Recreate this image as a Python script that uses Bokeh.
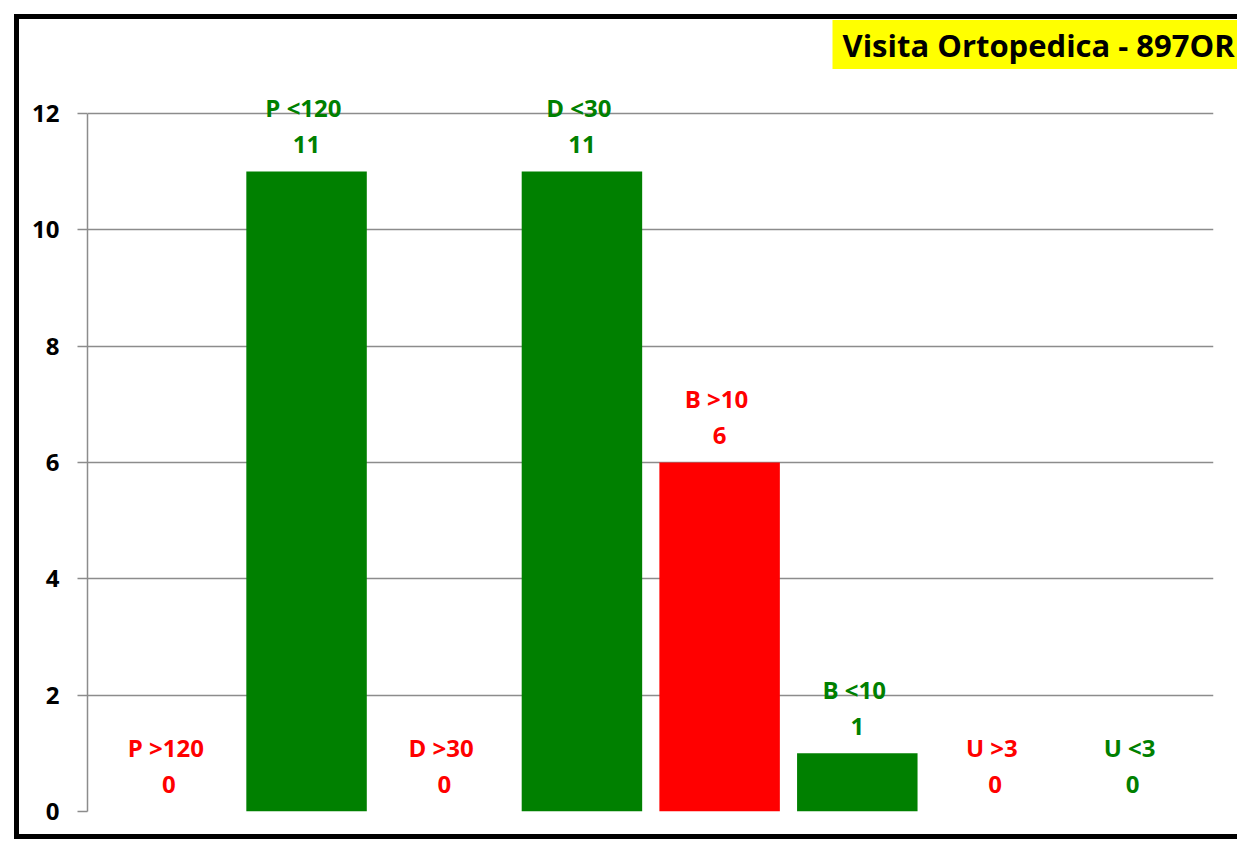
from bokeh.plotting import figure
from bokeh.models import ColumnDataSource, FixedTicker, Range1d, Title
from bokeh.core.properties import value
from bokeh.embed import file_html
from bokeh.resources import INLINE

# ---- data ----
categories = ["P  >120", "P  <120", "D  >30", "D  <30", "B  >10", "B  <10", "U  >3", "U  <3"]
values = [0, 11, 0, 11, 6, 1, 0, 0]
colors = ["#FF0000", "#008000", "#FF0000", "#008000", "#FF0000", "#008000", "#FF0000", "#008000"]
y_ticks = [0, 2, 4, 6, 8, 10, 12]
title_text = "Visita Ortopedica - 897OR"

xpos = list(range(len(categories)))
src = ColumnDataSource(dict(
    x=xpos, top=values, cat=categories, val=[str(v) for v in values], color=colors,
))

FONT = "Open Sans"

p = figure(
    width=1237, height=842,
    x_range=Range1d(-0.591, 7.587), y_range=Range1d(0, 12.635),
    output_backend="svg", toolbar_location=None, x_axis_location=None,
    min_border_left=87, min_border_right=24, min_border_top=76, min_border_bottom=31,
)
# chart border (left, top, bottom) drawn with CSS inset shadows behind the transparent canvas
p.styles = {
    "box-shadow": ("inset 14px 0 0 0 white, inset 0 14px 0 0 white, inset 0 -3px 0 0 white, "
                   "inset 19px 0 0 0 black, inset 0 19px 0 0 black, inset 0 -8px 0 0 black"),
}
p.outline_line_color = None
p.background_fill_color = "white"
p.border_fill_alpha = 0

p.vbar(x="x", top="top", bottom=0, width=0.875, fill_color="color", line_color=None, source=src)

p.text(x="x", y="top", text="cat", source=src, y_offset=-64, text_color="color",
       text_align="center", text_baseline="middle", text_font=value(FONT),
       text_font_style="bold", text_font_size="24px")
p.text(x="x", y="top", text="val", source=src, y_offset=-27, text_color="color",
       text_align="center", text_baseline="middle", text_font=value(FONT),
       text_font_style="bold", text_font_size="24px")

p.xgrid.visible = False
p.yaxis.ticker = FixedTicker(ticks=y_ticks)
p.ygrid.grid_line_color = "#8c8c8c"
p.ygrid.grid_line_width = 1.5
ax = p.yaxis[0]
ax.bounds = (0, 12)
ax.axis_line_color = "#8c8c8c"
ax.axis_line_width = 1.5
ax.major_tick_line_color = "#8c8c8c"
ax.major_tick_line_width = 1.5
ax.major_tick_out = 10
ax.major_tick_in = 0
ax.minor_tick_line_color = None
ax.major_label_standoff = 18
ax.major_label_text_font = FONT
ax.major_label_text_font_style = "bold"
ax.major_label_text_font_size = "24px"
ax.major_label_text_color = "black"

p.title = Title(text=title_text, text_font=FONT, text_font_style="bold",
                text_font_size="31px", text_color="black", align="left", offset=745,
                standoff=15, background_fill_color="#FFFF00",
                padding=dict(left=10, right=30, top=4, bottom=3))

open("out.html", "w").write(file_html(p, INLINE))
